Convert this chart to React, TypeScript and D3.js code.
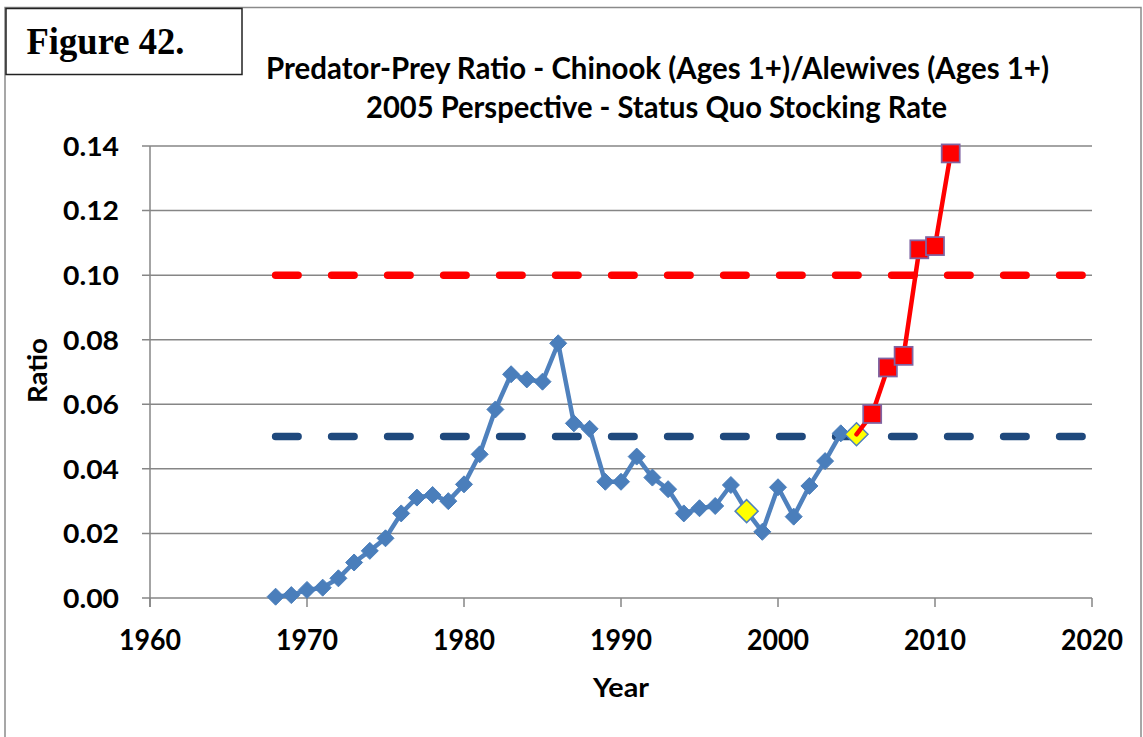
import React from "react";
import * as d3 from "d3";

const blueYears = d3.range(1968, 2006);
const blueValues = [
  0.0004, 0.0009, 0.0025, 0.0032, 0.0061, 0.011, 0.0146, 0.0185, 0.0262, 0.0311,
  0.0319, 0.030, 0.0352, 0.0445, 0.0584, 0.0693, 0.0677, 0.067, 0.0789, 0.0541,
  0.0524, 0.036, 0.036, 0.0438, 0.0373, 0.0337, 0.0262, 0.0278, 0.0285, 0.035,
  0.0269, 0.0205, 0.0343, 0.0252, 0.0347, 0.0424, 0.051, 0.0507,
];
const yellowYears = [1998, 2005];
const yellowValues = [0.0269, 0.0507];
const redYears = [2005, 2006, 2007, 2008, 2009, 2010, 2011];
const redValues = [0.0507, 0.057, 0.0714, 0.075, 0.108, 0.109, 0.1377];
const redMarkerStart = 1; // markers from 2006 on
const thresholdYears = [1968, 2020];
const upperThreshold = 0.1;
const lowerThreshold = 0.05;
const xTicks = [1960, 1970, 1980, 1990, 2000, 2010, 2020];
const yTicks = [0, 0.02, 0.04, 0.06, 0.08, 0.1, 0.12, 0.14];

const titleLine1 = "Predator-Prey Ratio - Chinook (Ages 1+)/Alewives (Ages 1+)";
const titleLine2 = "2005 Perspective - Status Quo Stocking Rate";
const figureLabel = "Figure 42.";

const W = 1143;
const H = 737;
const FONT = "Lato, 'Open Sans', sans-serif";

export default function App() {
  const x = d3.scaleLinear().domain([1960, 2020]).range([150, 1092]);
  const y = d3.scaleLinear().domain([0, 0.14]).range([598, 146]);

  const line = d3
    .line<[number, number]>()
    .x((d) => x(d[0]))
    .y((d) => y(d[1]));

  const bluePts: [number, number][] = blueYears.map((yr, i) => [yr, blueValues[i]]);
  const redPts: [number, number][] = redYears.map((yr, i) => [yr, redValues[i]]);
  const diamond = (cx: number, cy: number, r: number) =>
    `M${cx},${cy - r}L${cx + r},${cy}L${cx},${cy + r}L${cx - r},${cy}Z`;

  const gridColor = "#868686";

  return (
    <svg
      width={W}
      height={H}
      style={{ position: "absolute", left: 0, top: 0, background: "#fff" }}
    >
      <rect x={0} y={0} width={W} height={H} fill="#fff" />
      {/* outer frame */}
      <rect x={5} y={7.5} width={1136} height={760} fill="none" stroke="#8a8a8a" strokeWidth={1.5} />

      {/* figure label box */}
      <rect x={6} y={8.5} width={236} height={66} fill="#fff" stroke="#222" strokeWidth={1.5} />
      <text
        x={26.5}
        y={53.5}
        fontFamily="'Liberation Serif', 'Times New Roman', serif"
        fontWeight="bold"
        fontSize={37}
        textLength={158}
        lengthAdjust="spacingAndGlyphs"
        fill="#000"
      >
        {figureLabel}
      </text>

      {/* title */}
      <text
        x={657.5}
        y={79}
        textAnchor="middle"
        fontFamily={FONT}
        fontWeight="bold"
        fontSize={31}
        textLength={783}
        lengthAdjust="spacingAndGlyphs"
        fill="#000"
      >
        {titleLine1}
      </text>
      <text
        x={656.5}
        y={117.5}
        textAnchor="middle"
        fontFamily={FONT}
        fontWeight="bold"
        fontSize={30}
        textLength={581}
        lengthAdjust="spacingAndGlyphs"
        fill="#000"
      >
        {titleLine2}
      </text>

      {/* gridlines */}
      {yTicks.map((t) => (
        <line
          key={"g" + t}
          x1={x(1960) - 8}
          x2={x(2020)}
          y1={y(t)}
          y2={y(t)}
          stroke={gridColor}
          strokeWidth={1.5}
        />
      ))}
      {/* y axis line */}
      <line x1={x(1960)} x2={x(1960)} y1={y(0.14)} y2={y(0) + 9} stroke={gridColor} strokeWidth={1.5} />
      {/* x ticks */}
      {xTicks.map((t) => (
        <line key={"xt" + t} x1={x(t)} x2={x(t)} y1={y(0)} y2={y(0) + 9} stroke={gridColor} strokeWidth={1.5} />
      ))}

      {/* y tick labels */}
      {yTicks.map((t) => (
        <text
          key={"yl" + t}
          x={119}
          y={y(t) + 9.8}
          textAnchor="end"
          fontFamily={FONT}
          fontWeight="bold"
          fontSize={27}
          textLength={56}
          lengthAdjust="spacingAndGlyphs"
          fill="#000"
        >
          {d3.format(".2f")(t)}
        </text>
      ))}
      {/* x tick labels */}
      {xTicks.map((t) => (
        <text
          key={"xl" + t}
          x={x(t)}
          y={650}
          textAnchor="middle"
          fontFamily={FONT}
          fontWeight="bold"
          fontSize={29}
          textLength={62}
          lengthAdjust="spacingAndGlyphs"
          fill="#000"
        >
          {t}
        </text>
      ))}

      {/* axis titles */}
      <text
        x={621}
        y={696.5}
        textAnchor="middle"
        fontFamily={FONT}
        fontWeight="bold"
        fontSize={26}
        textLength={56}
        lengthAdjust="spacingAndGlyphs"
        fill="#000"
      >
        Year
      </text>
      <text
        transform={`translate(46.5,370.5) rotate(-90)`}
        textAnchor="middle"
        fontFamily={FONT}
        fontWeight="bold"
        fontSize={26}
        textLength={65}
        lengthAdjust="spacingAndGlyphs"
        fill="#000"
      >
        Ratio
      </text>

      {/* threshold dashed lines */}
      <line
        x1={x(thresholdYears[0])}
        x2={x(thresholdYears[1])}
        y1={y(upperThreshold)}
        y2={y(upperThreshold)}
        stroke="#FF0000"
        strokeWidth={7.5}
        strokeDasharray="22.5 33.5"
        strokeLinecap="round"
      />
      <line
        x1={x(thresholdYears[0])}
        x2={x(thresholdYears[1])}
        y1={y(lowerThreshold)}
        y2={y(lowerThreshold)}
        stroke="#1F497D"
        strokeWidth={7.5}
        strokeDasharray="22.5 33.5"
        strokeLinecap="round"
      />

      {/* blue series */}
      <path d={line(bluePts) || ""} fill="none" stroke="#4F81BD" strokeWidth={4.5} strokeLinejoin="round" />
      {bluePts.map((p, i) => (
        <path key={"bd" + i} d={diamond(x(p[0]), y(p[1]), 8.5)} fill="#4A7EBB" stroke="#4A7EBB" strokeWidth={1} />
      ))}

      {/* yellow highlighted points */}
      {yellowYears.map((yr, i) => (
        <path
          key={"yd" + i}
          d={diamond(x(yr), y(yellowValues[i]), 11.5)}
          fill="#FFFF00"
          stroke="#4F81BD"
          strokeWidth={1.5}
        />
      ))}

      {/* red projection */}
      <path d={line(redPts) || ""} fill="none" stroke="#FF0000" strokeWidth={4.5} strokeLinejoin="round" strokeLinecap="round" />
      {redPts.slice(redMarkerStart).map((p, i) => (
        <rect
          key={"rs" + i}
          x={x(p[0]) - 9}
          y={y(p[1]) - 9}
          width={18}
          height={18}
          fill="#FF0000"
          stroke="#8064A2"
          strokeWidth={1.75}
        />
      ))}
    </svg>
  );
}
